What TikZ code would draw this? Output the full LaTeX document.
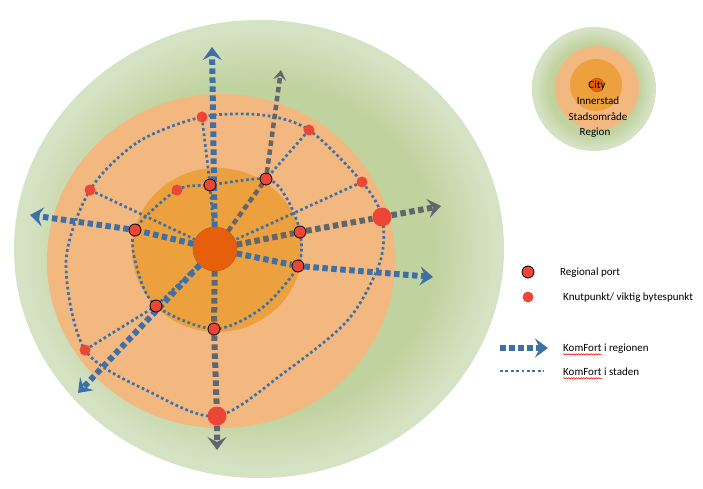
\documentclass[tikz,border=0pt]{standalone}
\usepackage{fontspec}
\setmainfont{Carlito}
\usetikzlibrary{arrows.meta,backgrounds,calc,decorations.pathmorphing}

\definecolor{regiongreen}{RGB}{192,210,158}
\definecolor{regionrim}{RGB}{214,226,196}
\definecolor{stadorange}{RGB}{242,184,128}
\definecolor{innerorange}{RGB}{237,160,62}
\definecolor{cityorange}{RGB}{230,96,12}
\definecolor{nodered}{RGB}{236,70,55}
\definecolor{lineblue}{RGB}{62,112,168}
\definecolor{linegray}{RGB}{96,102,110}

%soft rim of the region
\pgfdeclareradialshading{regionglow}{\pgfpoint{0bp}{0bp}}{color(0bp)=(regiongreen); color(18bp)=(regiongreen); color(24bp)=(regionrim); color(25bp)=(regionrim); color(50bp)=(regionrim)}

\tikzset{
    %Define style for the points
    port/.style={
           circle,
           fill=nodered,
           draw=black, line width=0.8pt,
           minimum size=12pt,
           inner sep=0pt},
    knut/.style={
           circle,
           fill=nodered,
           minimum size=11pt,
           inner sep=0pt},
    bigknut/.style={
           knut,
           minimum size=19pt},
    city/.style={
           circle,
           fill=cityorange,
           draw=cityorange!85!black,
           minimum size=44pt,
           inner sep=0pt},
    % Define line styles
    staden/.style={
           draw=lineblue,
           line width=2.7pt,
           dash pattern=on 2.7pt off 2.7pt},
    regionen/.style={
           line width=6pt,
           dash pattern=on 5.5pt off 3.5pt,
           -{Stealth[length=13pt,width=19pt,inset=5pt]}},
    legendtext/.style={
           font=\fontsize{11}{13}\selectfont,
           inner sep=0pt},
    spell/.style={
           draw=red, line width=0.5pt,
           decorate,
           decoration={snake, amplitude=0.7pt, segment length=2.5pt}}
}

\begin{document}
\begin{tikzpicture}[x=1pt, y=-1pt]
    \useasboundingbox (0,0) rectangle (703,489);
 %nodes
    \node[city] (city) at (215,249) {};
    \node[port] (pN) at (210,185) {};
    \node[port] (pNE) at (266,179) {};
    \node[port] (pW) at (135,230) {};
    \node[port] (pE) at (300,232) {};
    \node[port] (pSE) at (298,266) {};
    \node[port] (pSW) at (156,306) {};
    \node[port] (pS) at (214,329) {};
    \node[knut] (kN) at (202,117) {};
    \node[knut] (kNE) at (309,130) {};
    \node[knut] (kNW) at (90,190) {};
    \node[knut] (kI) at (177,190) {};
    \node[knut] (kE) at (362,182) {};
    \node[knut] (kSW) at (85,350) {};
    \node[bigknut] (kEbig) at (382,217) {};
    \node[bigknut] (kSbig) at (217,416) {};
 %ring points and arrow ends
    \coordinate (o1) at (380,262);
    \coordinate (o2) at (348,320);
    \coordinate (o3) at (285,372);
    \coordinate (o4) at (150,392);
    \coordinate (o5) at (66,262);
    \coordinate (o6) at (138,142);
    \coordinate (o7) at (262,115);
    \coordinate (i1) at (286,197);
    \coordinate (i2) at (262,308);
    \coordinate (i3) at (137,268);
    \coordinate (aN) at (212,47);
    \coordinate (aNE) at (281,70);
    \coordinate (aW) at (30,215);
    \coordinate (aE) at (441,206);
    \coordinate (aSE) at (433,277);
    \coordinate (aSW) at (78,393);
    \coordinate (aS) at (217,450);
 %legend
    \node[legendtext] (tcity) at (597,86) {City};
    \node[legendtext] (tinner) at (598,101) {Innerstad};
    \node[legendtext] (tstad) at (598,117) {Stadsområde};
    \node[legendtext] (tregion) at (595,133) {Region};
    \node[port] (lport) at (528,272) {};
    \node[legendtext, anchor=west] (tport) at (560,273) {Regional port};
    \node[knut] (lknut) at (528,297) {};
    \node[legendtext, anchor=west] (tknut) at (563,298) {Knutpunkt/ viktig bytespunkt};
    \coordinate (lreg0) at (500,348);
    \coordinate (lreg1) at (548,348);
    \node[legendtext, anchor=west] (treg) at (563,349) {KomFort i regionen};
    \coordinate (lsta0) at (500,371);
    \coordinate (lsta1) at (544,371);
    \node[legendtext, anchor=west] (tsta) at (563,372) {KomFort i staden};

    \begin{scope}[on background layer]
 %zones
    \shade[shading=regionglow] (259,249) ellipse [x radius=245, y radius=229];
    \fill[stadorange] (221,261) ellipse [x radius=174, y radius=167];
    \fill[innerorange] (217,250) ellipse [x radius=85, y radius=82];
    \shade[shading=regionglow] (594,89) circle [radius=62];
    \fill[stadorange] (597,88) circle [radius=42];
    \fill[innerorange] (596,85) circle [radius=26];
    \filldraw[fill=cityorange, draw=cityorange!85!black] (597,85) circle [radius=7];
 %edges
    \draw[staden] plot[smooth cycle] coordinates {(kNW) (o6) (kN) (o7) (kNE) (kE) (kEbig) (o1) (o2) (o3) (kSbig) (o4) (kSW) (o5)};
    \draw[staden] plot[smooth cycle] coordinates {(pW) (kI) (pN) (pNE) (i1) (pE) (pSE) (i2) (pS) (pSW) (i3)};
    \draw[staden] (kN) -- (pN) -- (city);
    \draw[staden] (kNE) -- (pNE);
    \draw[staden] (kNW) -- (city);
    \draw[staden] (kE) -- (city);
    \draw[staden] (kSW) -- (pSW) -- (city);
    \draw[regionen, lineblue] (city) -- (aN);
    \draw[regionen, linegray, line width=4.5pt, -{Stealth[length=10pt,width=13pt,inset=4pt]}] (city) -- (pNE) -- (aNE);
    \draw[regionen, lineblue] (city) -- (pW) -- (aW);
    \draw[regionen, linegray] (city) -- (pE) -- (kEbig) -- (aE);
    \draw[regionen, lineblue] (city) -- (pSE) -- (aSE);
    \draw[regionen, lineblue] (city) -- (aSW);
    \draw[regionen, linegray] (city) -- (pS) -- (kSbig) -- (aS);
    \draw[regionen, lineblue] (lreg0) -- (lreg1);
    \draw[staden] (lsta0) -- (lsta1);
    \end{scope}
    \draw[spell] ($(treg.base west)+(0,2.5)$) -- ++(39,0);
    \draw[spell] ($(tsta.base west)+(0,2.5)$) -- ++(39,0);
\end{tikzpicture}
\end{document}
